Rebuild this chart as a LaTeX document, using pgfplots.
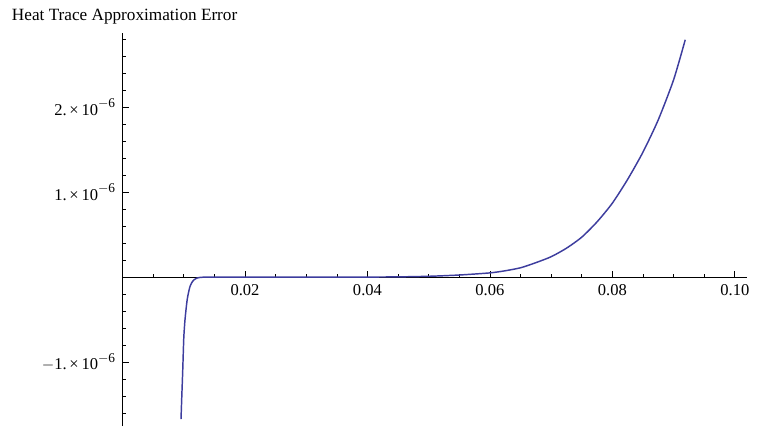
\documentclass[border=0pt]{standalone}
\usepackage{fontspec}
\setmainfont{Liberation Serif}
\usepackage{pgfplots}
\pgfplotsset{compat=1.18}
\definecolor{curveblue}{RGB}{61,61,158}

% exponent written in the text font, a little raised
\newcommand{\expo}[1]{\raisebox{0.45em}{\fontsize{10}{11}\selectfont #1}}

\pgfplotstableread{
x        y
0.00955  -1.67e-6
0.00968  -1.40e-6
0.00983  -1.10e-6
0.01000  -0.72e-6
0.01018  -0.52e-6
0.01037  -0.38e-6
0.01055  -0.27e-6
0.01075  -0.19e-6
0.01100  -0.115e-6
0.01130  -0.065e-6
0.01170  -0.030e-6
0.01210  -0.012e-6
0.01260  -0.004e-6
0.01310  -0.001e-6
0.01500  0
0.02000  0
0.03000  0
0.04000  0.001e-6
0.04500  0.003e-6
0.05000  0.010e-6
0.05500  0.025e-6
0.06000  0.050e-6
0.06250  0.075e-6
0.06500  0.11e-6
0.06750  0.17e-6
0.07000  0.24e-6
0.07250  0.34e-6
0.07500  0.47e-6
0.07750  0.65e-6
0.08000  0.87e-6
0.08250  1.15e-6
0.08500  1.47e-6
0.08750  1.85e-6
0.09000  2.32e-6
0.09190  2.79e-6
}\errdata

\begin{document}
\begin{tikzpicture}
\begin{axis}[
  scale only axis,
  width=468.4pt, height=294.75pt,
  axis lines=middle,
  xmin=0, xmax=0.102,
  ymin=-1.75e-6, ymax=2.87e-6,
  axis line style={black, line width=0.6pt, -},
  xtick={0.02,0.04,0.06,0.08,0.10},
  xticklabels={0.02,0.04,0.06,0.08,0.10},
  minor xtick={0.005,0.01,0.015,0.025,0.03,0.035,0.045,0.05,0.055,0.065,0.07,0.075,0.085,0.09,0.095,0.1},
  ytick={-1e-6,1e-6,2e-6},
  yticklabels={{$-$1.\,×\,10\expo{$-$6}},{1.\,×\,10\expo{$-$6}},{2.\,×\,10\expo{$-$6}}},
  minor ytick={-1.6e-6,-1.4e-6,-1.2e-6,-0.8e-6,-0.6e-6,-0.4e-6,-0.2e-6,0.2e-6,0.4e-6,0.6e-6,0.8e-6,1.2e-6,1.4e-6,1.6e-6,1.8e-6,2.2e-6,2.4e-6,2.6e-6,2.8e-6},
  scaled y ticks=false, scaled x ticks=false,
  tick align=inside,
  major tick length=4.5pt, minor tick length=2.6pt,
  tick style={black, line width=0.5pt},
  ticklabel style={font=\fontsize{12.4}{14}\selectfont},
  xticklabel style={yshift=-2pt},
  yticklabel style={xshift=-2pt},
  clip=false,
]
\addplot[curveblue, line width=1.1pt, smooth, tension=0.4] table[x=x, y=y] {\errdata};
\end{axis}
\pgfresetboundingbox
\useasboundingbox ([xshift=-91.9pt]current axis.south west) rectangle ([xshift=479.6pt, yshift=319.5pt]current axis.south west);
\node[anchor=base west, font=\fontsize{12.9}{15}\selectfont, inner sep=0pt]
  at ([xshift=-83.1pt, yshift=304.5pt]current axis.south west) {Heat Trace Approximation Error};
\end{tikzpicture}
\end{document}
